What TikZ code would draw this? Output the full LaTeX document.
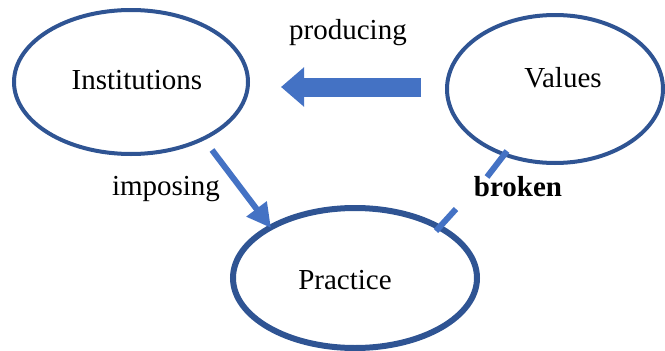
\documentclass[tikz,border=0pt]{standalone}
\usepackage{fontspec}
\setmainfont{Liberation Serif}
\usetikzlibrary{shapes.geometric,arrows.meta}
\definecolor{ringblue}{HTML}{2F5493}
\definecolor{arrowblue}{HTML}{4472C4}
\tikzset{
  ring/.style={ellipse, draw=ringblue, line width=4pt, inner sep=0pt},
  lbl/.style={font=\fontsize{29}{32}\selectfont, inner sep=0pt},
  bluearrow/.style={draw=arrowblue, line cap=butt}
}
\begin{document}
\begin{tikzpicture}[x=1pt,y=-1pt]
\useasboundingbox (0,0) rectangle (665,351);
\node[ring, minimum width=234pt, minimum height=144pt] (inst) at (131,82) {};
\node[lbl] (instT) at (137,80) {Institutions};
\node[ring, minimum width=216pt, minimum height=148pt] (val) at (555,89) {};
\node[lbl] (valT) at (563,78) {Values};
\node[ring, line width=6pt, minimum width=244pt, minimum height=140pt] (prac) at (355,278) {};
\node[lbl] (pracT) at (345,280) {Practice};

\node[lbl] (prod) at (348,33) {producing};
\node[lbl] (imp) at (166,189) {imposing};
\node[lbl, font=\fontsize{29}{32}\selectfont\bfseries] (brk) at (518,187) {broken};

\coordinate (pS) at (421,87);
\coordinate (pE) at (281,87);
\draw[bluearrow, line width=19pt, -{Triangle[length=23pt, width=38pt]}] (pS) -- (pE);

\coordinate (iS) at (212,150);
\coordinate (iE) at (271,228);
\draw[bluearrow, line width=6pt, -{Triangle[length=24pt, width=24pt]}] (iS) -- (iE);

\coordinate (b1) at (507,151);
\coordinate (b2) at (487,177);
\coordinate (b3) at (456,209);
\coordinate (b4) at (436,231);
\draw[bluearrow, line width=6pt] (b1) -- (b2);
\draw[bluearrow, line width=6pt] (b3) -- (b4);
\end{tikzpicture}
\end{document}
